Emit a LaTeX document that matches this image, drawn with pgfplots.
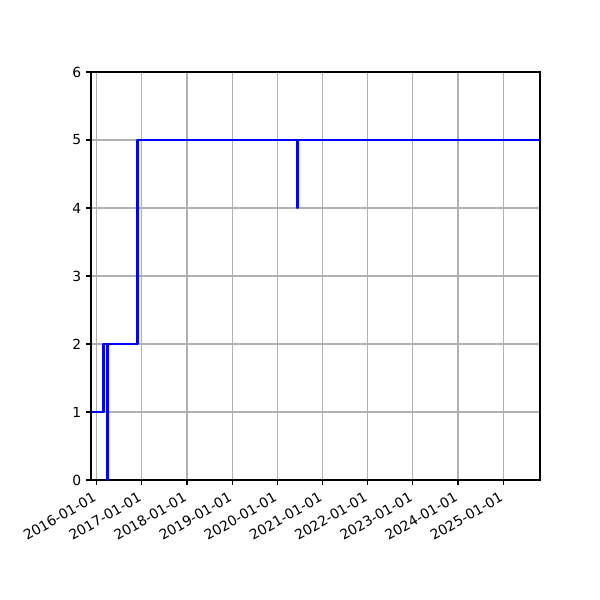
\documentclass[border=0pt]{standalone}
\usepackage{fontspec}
\setmainfont{DejaVu Sans}
\usepackage{pgfplots}
\pgfplotsset{compat=1.18}
\usepgfplotslibrary{dateplot}
\definecolor{gridgray}{HTML}{B0B0B0}

\begin{document}
\begin{tikzpicture}
\path[use as bounding box] (-65.52pt,-86.4pt) rectangle (366.48pt,345.6pt);
\begin{axis}[
    scale only axis,
    width=323.28pt, height=293.76pt,
    at={(0,0)}, anchor=south west,
    date coordinates in=x, date ZERO=2016-01-01,
    xmin=2015-11-17, xmax=2025-10-25,
    ymin=0, ymax=6, ytick={0,...,6},
    xtick={2016-01-01,2017-01-01,2018-01-01,2019-01-01,2020-01-01,2021-01-01,2022-01-01,2023-01-01,2024-01-01,2025-01-01},
    xticklabel=\year-\month-\day,
    xticklabel style={xshift=-2pt, rotate=30, anchor=north east, font=\fontsize{10}{12}\selectfont},
    yticklabel style={font=\fontsize{10}{12}\selectfont},
    /pgf/number format/assume math mode=true,
    grid=major, grid style={gridgray, line width=0.8pt},
    axis line style={line width=0.8pt},
    tick align=outside, tick pos=left,
    major tick length=3.5pt,
    tick style={black, line width=0.8pt},
]
\addplot[draw=blue, line width=2pt, line join=round, const plot, mark=none] coordinates {
    (2015-11-17,1)
    (2016-02-25,2)
    (2016-03-28,0)
    (2016-03-29,2)
    (2016-11-26,5)
    (2020-06-11,4)
    (2020-06-12,5)
    (2025-10-25,5)
};
\end{axis}
\end{tikzpicture}
\end{document}
